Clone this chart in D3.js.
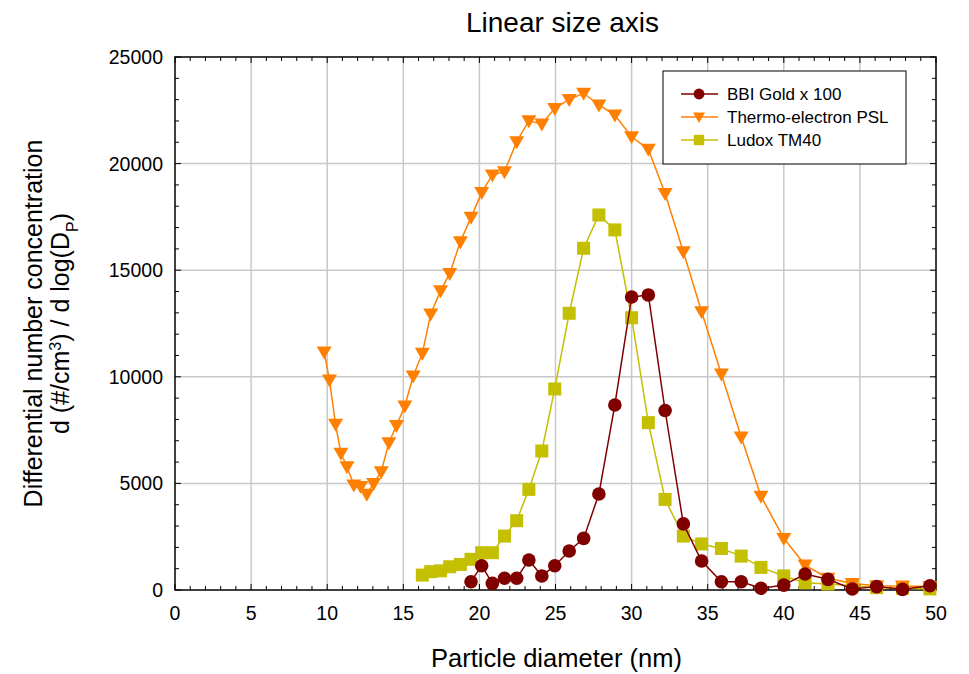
<!DOCTYPE html>
<html>
<head>
<meta charset="utf-8">
<script src="https://cdnjs.cloudflare.com/ajax/libs/d3/7.8.5/d3.min.js"></script>
<style>
  body { margin: 0; background: #fff; }
  text { font-family: "Liberation Sans", Arial, sans-serif; fill: #000; }
</style>
</head>
<body>
<div id="chart"></div>
<script>
// diameters (nm)
const diameters = [9.8, 10.15, 10.55, 10.9, 11.3, 11.75, 12.2, 12.6, 13.05, 13.55,
  14.05, 14.55, 15.1, 15.65, 16.25, 16.8, 17.45, 18.05, 18.75, 19.45,
  20.15, 20.85, 21.65, 22.45, 23.25, 24.1, 24.95, 25.9, 26.85, 27.85,
  28.9, 30.0, 31.1, 32.2, 33.4, 34.6, 35.9, 37.2, 38.5, 40.0,
  41.4, 42.9, 44.5, 46.1, 47.8, 49.6];

const pslValues = [11160, 9850, 7770, 6410, 5780, 4925, 4850, 4490, 5000, 5550,
  6910, 7710, 8630, 10040, 11100, 12950, 14040, 14850, 16340, 17480,
  18640, 19470, 19620, 21030, 22010, 21860, 22590, 23010, 23300, 22750,
  22280, 21260, 20670, 18600, 15870, 13050, 10130, 7180, 4400, 2420,
  1170, 550, 310, 200, 190, 160];

// starts at diameters[14]
const ludoxValues = [700, 860, 900, 1090, 1200, 1440, 1750, 1750, 2530, 3250,
  4720, 6520, 9430, 12980, 16030, 17590, 16890, 12770, 7850, 4250,
  2530, 2160, 1950, 1590, 1060, 660, 340, 280, 200, 110, 80, 50];

// starts at diameters[19]
const goldValues = [390, 1140, 310, 550, 550, 1410, 660, 1140, 1830, 2420,
  4500, 8680, 13740, 13840, 8420, 3100, 1360, 390, 390, 80,
  230, 750, 500, 50, 160, 30, 200];

const xTicks = [0, 5, 10, 15, 20, 25, 30, 35, 40, 45, 50];
const yTicks = [0, 5000, 10000, 15000, 20000, 25000];

const zip = (vals, start) => vals.map((v, i) => ({ x: diameters[start + i], y: v }));

const series = [
  { name: 'BBI Gold x 100', color: '#800000', marker: 'circle', data: zip(goldValues, 19) },
  { name: 'Thermo-electron PSL', color: '#ff8000', marker: 'triangle', data: zip(pslValues, 0) },
  { name: 'Ludox TM40', color: '#c4bf00', marker: 'square', data: zip(ludoxValues, 14) }
];

const W = 969, H = 674;
const margin = { t: 57, r: 33, b: 84, l: 175 };
const iw = W - margin.l - margin.r;
const ih = H - margin.t - margin.b;

const x = d3.scaleLinear().domain([0, 50]).range([0, iw]);
const y = d3.scaleLinear().domain([0, 25000]).range([ih, 0]);

const svg = d3.select('#chart').append('svg')
  .attr('width', W)
  .attr('height', H);

const g = svg.append('g')
  .attr('transform', `translate(${margin.l}, ${margin.t})`);

// grid
g.append('g').selectAll('line')
  .data(xTicks.slice(1, -1))
  .enter().append('line')
  .attr('x1', d => x(d)).attr('x2', d => x(d))
  .attr('y1', 0).attr('y2', ih)
  .style('stroke', '#c8c8c8').style('stroke-width', 1.5);

g.append('g').selectAll('line')
  .data(yTicks.slice(1, -1))
  .enter().append('line')
  .attr('y1', d => y(d)).attr('y2', d => y(d))
  .attr('x1', 0).attr('x2', iw)
  .style('stroke', '#c8c8c8').style('stroke-width', 1.5);

// minor + major ticks on all four sides
const xMinor = d3.range(0, 51, 1);
const yMinor = d3.range(0, 25001, 1000);
const tickLen = d => (d % 5 === 0 ? 6 : 4);
const yTickLen = d => (d % 5000 === 0 ? 6 : 4);

const ticks = g.append('g').style('stroke', '#000').style('stroke-width', 1);
ticks.selectAll('.xb').data(xMinor).enter().append('line')
  .attr('x1', d => x(d)).attr('x2', d => x(d))
  .attr('y1', ih).attr('y2', d => ih - tickLen(d));
ticks.selectAll('.xt').data(xMinor).enter().append('line')
  .attr('x1', d => x(d)).attr('x2', d => x(d))
  .attr('y1', 0).attr('y2', d => tickLen(d));
ticks.selectAll('.yl').data(yMinor).enter().append('line')
  .attr('y1', d => y(d)).attr('y2', d => y(d))
  .attr('x1', 0).attr('x2', d => yTickLen(d));
ticks.selectAll('.yr').data(yMinor).enter().append('line')
  .attr('y1', d => y(d)).attr('y2', d => y(d))
  .attr('x1', iw).attr('x2', d => iw - yTickLen(d));

// frame
g.append('rect')
  .attr('width', iw).attr('height', ih)
  .style('fill', 'none').style('stroke', '#000').style('stroke-width', 1.5);

// tick labels
g.append('g').selectAll('text')
  .data(xTicks)
  .enter().append('text')
  .attr('x', d => x(d))
  .attr('y', ih + 30)
  .attr('text-anchor', 'middle')
  .style('font-size', '19.5px')
  .text(d => d);

g.append('g').selectAll('text')
  .data(yTicks)
  .enter().append('text')
  .attr('x', -12)
  .attr('y', d => y(d) + 7)
  .attr('text-anchor', 'end')
  .style('font-size', '19.5px')
  .text(d => d);

// series
const line = d3.line().x(d => x(d.x)).y(d => y(d.y));

function drawMarker(sel, type, color, k = 1) {
  if (type === 'circle') {
    sel.append('circle').attr('r', 6.8 * k).style('fill', color);
  } else if (type === 'square') {
    sel.append('rect').attr('x', -6.5 * k).attr('y', -6.5 * k)
      .attr('width', 13 * k).attr('height', 13 * k)
      .style('fill', color);
  } else {
    sel.append('polygon')
      .attr('points', `${-7.5 * k},${-5.5 * k} ${7.5 * k},${-5.5 * k} 0,${7.5 * k}`)
      .style('fill', color);
  }
}

// draw order: Ludox, PSL, Gold on top
[series[2], series[1], series[0]].forEach(s => {
  g.append('path')
    .datum(s.data)
    .attr('d', line)
    .style('fill', 'none')
    .style('stroke', s.color)
    .style('stroke-width', 1.5);
  const m = g.append('g').selectAll('g')
    .data(s.data)
    .enter().append('g')
    .attr('transform', d => `translate(${x(d.x)}, ${y(d.y)})`);
  drawMarker(m, s.marker, s.color);
});

// legend
const legend = svg.append('g').attr('transform', 'translate(663, 71)');
legend.append('rect')
  .attr('width', 243).attr('height', 93)
  .style('fill', '#fff').style('stroke', '#000').style('stroke-width', 1);

series.forEach((s, i) => {
  const row = legend.append('g').attr('transform', `translate(0, ${23 + i * 23})`);
  row.append('line')
    .attr('x1', 18).attr('x2', 55).attr('y1', 0).attr('y2', 0)
    .style('stroke', s.color).style('stroke-width', 1.5);
  const mk = row.append('g').attr('transform', 'translate(36, 0)');
  drawMarker(mk, s.marker, s.color, 0.8);
  row.append('text')
    .attr('x', 64).attr('y', 6)
    .style('font-size', '17px')
    .text(s.name);
});

// titles
svg.append('text')
  .attr('x', margin.l + iw / 2 + 7)
  .attr('y', 32)
  .attr('text-anchor', 'middle')
  .style('font-size', '28px')
  .text('Linear size axis');

svg.append('text')
  .attr('x', margin.l + iw / 2 + 1)
  .attr('y', 667)
  .attr('text-anchor', 'middle')
  .style('font-size', '25.5px')
  .text('Particle diameter (nm)');

const yl = svg.append('g')
  .attr('transform', `translate(0, ${margin.t + ih / 2}) rotate(-90)`)
  .attr('text-anchor', 'middle')
  .style('font-size', '25px');

yl.append('text').attr('x', 0).attr('y', 42).text('Differential number concentration');

const l2 = yl.append('text').attr('x', 0).attr('y', 69);
l2.append('tspan').text('d (#/cm');
l2.append('tspan').attr('baseline-shift', 'super').style('font-size', '16px').text('3');
l2.append('tspan').text(') / d log(D');
l2.append('tspan').attr('baseline-shift', 'sub').style('font-size', '16px').text('P');
l2.append('tspan').text(')');
</script>
</body>
</html>
